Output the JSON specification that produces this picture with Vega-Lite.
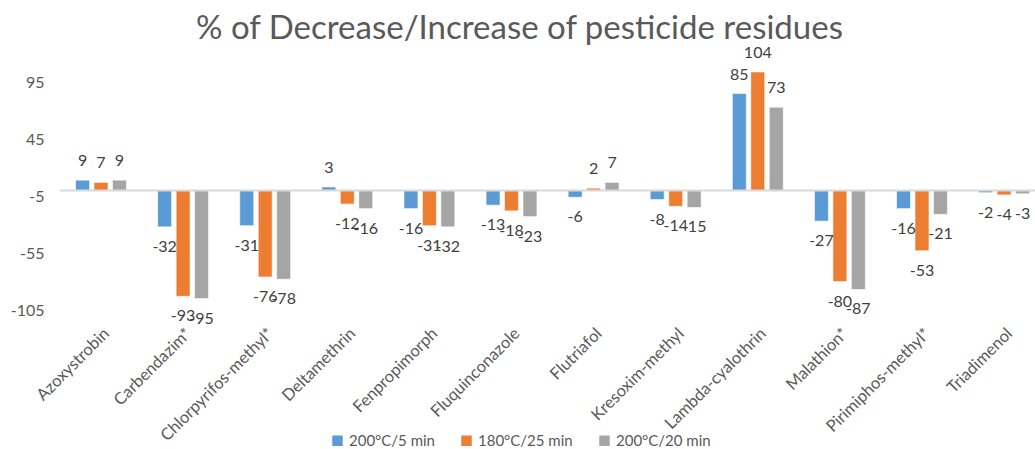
{
  "$schema": "https://vega.github.io/schema/vega-lite/v6.json",
  "width": 975,
  "height": 262,
  "autosize": {"type": "none"},
  "padding": {"left": 60, "top": 48, "right": 0, "bottom": 139},
  "background": "white",
  "config": {"view": {"stroke": null}, "font": "Lato"},
  "title": {
    "text": "% of Decrease/Increase of pesticide residues",
    "fontSize": 33,
    "font": "Lato",
    "fontWeight": "normal",
    "color": "#595959",
    "anchor": "middle",
    "offset": -1,
    "dx": -28
  },
  "data": {
    "values": [
      {"pesticide": "Azoxystrobin", "series": "200°C/5 min", "value": 9},
      {"pesticide": "Azoxystrobin", "series": "180°C/25 min", "value": 7},
      {"pesticide": "Azoxystrobin", "series": "200°C/20 min", "value": 9},
      {"pesticide": "Carbendazim*", "series": "200°C/5 min", "value": -32},
      {"pesticide": "Carbendazim*", "series": "180°C/25 min", "value": -93},
      {"pesticide": "Carbendazim*", "series": "200°C/20 min", "value": -95},
      {"pesticide": "Chlorpyrifos-methyl*", "series": "200°C/5 min", "value": -31},
      {"pesticide": "Chlorpyrifos-methyl*", "series": "180°C/25 min", "value": -76},
      {"pesticide": "Chlorpyrifos-methyl*", "series": "200°C/20 min", "value": -78},
      {"pesticide": "Deltamethrin", "series": "200°C/5 min", "value": 3},
      {"pesticide": "Deltamethrin", "series": "180°C/25 min", "value": -12},
      {"pesticide": "Deltamethrin", "series": "200°C/20 min", "value": -16},
      {"pesticide": "Fenpropimorph", "series": "200°C/5 min", "value": -16},
      {"pesticide": "Fenpropimorph", "series": "180°C/25 min", "value": -31},
      {"pesticide": "Fenpropimorph", "series": "200°C/20 min", "value": -32},
      {"pesticide": "Fluquinconazole", "series": "200°C/5 min", "value": -13},
      {"pesticide": "Fluquinconazole", "series": "180°C/25 min", "value": -18},
      {"pesticide": "Fluquinconazole", "series": "200°C/20 min", "value": -23},
      {"pesticide": "Flutriafol", "series": "200°C/5 min", "value": -6},
      {"pesticide": "Flutriafol", "series": "180°C/25 min", "value": 2},
      {"pesticide": "Flutriafol", "series": "200°C/20 min", "value": 7},
      {"pesticide": "Kresoxim-methyl", "series": "200°C/5 min", "value": -8},
      {"pesticide": "Kresoxim-methyl", "series": "180°C/25 min", "value": -14},
      {"pesticide": "Kresoxim-methyl", "series": "200°C/20 min", "value": -15},
      {"pesticide": "Lambda-cyalothrin", "series": "200°C/5 min", "value": 85},
      {"pesticide": "Lambda-cyalothrin", "series": "180°C/25 min", "value": 104},
      {"pesticide": "Lambda-cyalothrin", "series": "200°C/20 min", "value": 73},
      {"pesticide": "Malathion*", "series": "200°C/5 min", "value": -27},
      {"pesticide": "Malathion*", "series": "180°C/25 min", "value": -80},
      {"pesticide": "Malathion*", "series": "200°C/20 min", "value": -87},
      {"pesticide": "Pirimiphos-methyl*", "series": "200°C/5 min", "value": -16},
      {"pesticide": "Pirimiphos-methyl*", "series": "180°C/25 min", "value": -53},
      {"pesticide": "Pirimiphos-methyl*", "series": "200°C/20 min", "value": -21},
      {"pesticide": "Triadimenol", "series": "200°C/5 min", "value": -2},
      {"pesticide": "Triadimenol", "series": "180°C/25 min", "value": -4},
      {"pesticide": "Triadimenol", "series": "200°C/20 min", "value": -3}
    ]
  },
  "encoding": {
    "x": {
      "field": "pesticide",
      "type": "nominal",
      "sort": null,
      "title": null,
      "scale": {"paddingInner": 0.38, "paddingOuter": 0.128, "align": 0.74},
      "axis": {
        "labelAngle": -45,
        "labelFontSize": 16.5,
        "labelColor": "#595959",
        "labelFont": "Lato",
        "domain": false,
        "ticks": false,
        "labelPadding": 15
      }
    },
    "xOffset": {
      "field": "series",
      "sort": ["200°C/5 min", "180°C/25 min", "200°C/20 min"],
      "scale": {"paddingInner": 0.243}
    },
    "y": {
      "field": "value",
      "type": "quantitative",
      "title": null,
      "scale": {"domain": [-105, 125], "nice": false, "zero": false},
      "axis": {
        "values": [-105, -55, -5, 45, 95],
        "labelExpr": "'' + datum.value",
        "grid": false,
        "domain": false,
        "ticks": false,
        "labelFontSize": 16,
        "labelColor": "#595959",
        "labelFont": "Lato",
        "labelPadding": 16
      }
    }
  },
  "layer": [
    {
      "mark": {"type": "bar", "stroke": "white", "strokeWidth": 0.6},
      "encoding": {
        "y2": {"datum": 0},
        "color": {
          "field": "series",
          "type": "nominal",
          "sort": ["200°C/5 min", "180°C/25 min", "200°C/20 min"],
          "scale": {
            "domain": ["200°C/5 min", "180°C/25 min", "200°C/20 min"],
            "range": ["#5B9BD5", "#ED7D31", "#A5A5A5"]
          },
          "legend": {
            "title": null,
            "orient": "none",
            "direction": "horizontal",
            "legendX": 270,
            "legendY": 385,
            "symbolType": "square",
            "symbolSize": 110,
            "symbolStrokeWidth": 0,
            "labelFontSize": 15,
            "labelColor": "#595959",
            "labelFont": "Lato",
            "columnPadding": 24,
            "labelOffset": 4
          }
        }
      }
    },
    {
      "data": {"values": [{"zero": 0}]},
      "mark": {"type": "rule", "color": "#D9D9D9", "strokeWidth": 2},
      "encoding": {"y": {"field": "zero", "type": "quantitative"}, "x": null, "xOffset": null}
    },
    {
      "transform": [{"filter": "datum.value >= 0"}],
      "mark": {"type": "text", "dy": -19, "fontSize": 16, "color": "#404040", "font": "Lato"},
      "encoding": {"text": {"field": "value", "type": "nominal"}}
    },
    {
      "transform": [{"filter": "datum.value < 0"}],
      "mark": {"type": "text", "dy": 20, "fontSize": 16, "color": "#404040", "font": "Lato"},
      "encoding": {"text": {"field": "value", "type": "nominal"}}
    }
  ]
}
